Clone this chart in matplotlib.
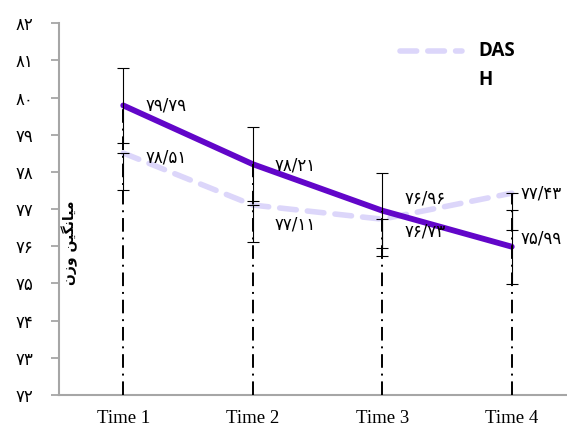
import numpy as np
import matplotlib
matplotlib.use('Agg')
import matplotlib.pyplot as plt

# datos
categorias = ['Time 1', 'Time 2', 'Time 3', 'Time 4']
serie_morada = [79.79, 78.21, 76.96, 75.99]
serie_das = [78.51, 77.11, 76.73, 77.43]
error_morada = [1.0, 1.0, 1.0, 1.0]
error_das = [1.0, 1.0, 1.0, 1.0]
etiquetas_morada = ['۷۹/۷۹', '۷۸/۲۱', '۷۶/۹۶', '۷۵/۹۹']
etiquetas_das = ['۷۸/۵۱', '۷۷/۱۱', '۷۶/۷۳', '۷۷/۴۳']
yticks = list(range(72, 83))
ytick_labels = ['۷۲', '۷۳', '۷۴', '۷۵', '۷۶', '۷۷', '۷۸', '۷۹', '۸۰', '۸۱', '۸۲']

# desplazamientos (pt) de las etiquetas de datos
desp_morada = [(16, 0), (16, -1), (16, 9), (6, 6)]
desp_das = [(16, -3), (16, -14), (16, -9), (6, 0)]

# "میانگین وزن" en formas de presentacion, orden visual
etiqueta_y = '\uFEE5\uFEAF\uFEED \uFEE6\uFEF4\uFB95\uFEE7\uFE8E\uFEF4\uFEE3'

morado = '#6206C9'
lavanda = '#DCD6FA'
gris = '#A6A6A6'

x = np.arange(1, len(categorias) + 1)

fig = plt.figure(figsize=(5.67, 4.28), dpi=100)
ax = fig.add_axes([58.5 / 567, 33 / 428, (567 - 58.5) / 567, (395 - 23.3) / 428])

# lineas de las series
ax.plot(x, serie_das, color=lavanda, lw=4.0, ls=(0, (3.0, 2.0)), dash_capstyle='round', zorder=2)
ax.plot(x, serie_morada, color=morado, lw=4.2, solid_capstyle='round', zorder=2)

# lineas de caida (punto mas alto hasta el eje)
tope = np.maximum(serie_morada, serie_das)
ax.vlines(x, 72, tope, colors='black', lw=1.4, linestyles=(0, (7, 3, 1, 3)), zorder=3)

# barras de error
ax.errorbar(x, serie_morada, yerr=error_morada, fmt='none', ecolor='black', elinewidth=0.8,
            capsize=4.5, capthick=0.8, zorder=4)
ax.errorbar(x, serie_das, yerr=[error_das, [0] * 4], fmt='none', ecolor='black', elinewidth=0.8,
            capsize=4.5, capthick=0.8, zorder=4)

# etiquetas de datos
for xi, yi, t, d in zip(x, serie_morada, etiquetas_morada, desp_morada):
    ax.annotate(t, (xi, yi), xytext=d, textcoords='offset points', ha='left', va='center',
                fontsize=12, family='DejaVu Sans', annotation_clip=False)
for xi, yi, t, d in zip(x, serie_das, etiquetas_das, desp_das):
    ax.annotate(t, (xi, yi), xytext=d, textcoords='offset points', ha='left', va='center',
                fontsize=12, family='DejaVu Sans', annotation_clip=False)

ax.set_xlim(0.5, 0.5 + (567 - 58.5) / 129.5)
ax.set_ylim(72, 82)
ax.set_xticks(x)
ax.set_xticklabels(categorias, family='Liberation Serif', fontsize=13.5)
ax.tick_params(axis='x', length=0, pad=11)
ax.set_yticks(yticks)
ax.set_yticklabels(ytick_labels, family='DejaVu Sans', fontsize=12)
ax.tick_params(axis='y', length=6, width=1.3, color=gris, pad=12)

for lado in ['top', 'right']:
    ax.spines[lado].set_visible(False)
for lado in ['left', 'bottom']:
    ax.spines[lado].set_color(gris)
    ax.spines[lado].set_linewidth(1.5)

ax.text(0.023, 0.41, etiqueta_y, transform=ax.transAxes, rotation=90, ha='center', va='center',
        fontsize=10, fontweight='bold', family='DejaVu Sans')

# leyenda (solo la serie DAS)
ax.plot([0.672, 0.794], [0.926, 0.926], transform=ax.transAxes, color=lavanda, lw=4.0,
        ls=(0, (3.0, 2.0)), dash_capstyle='round', clip_on=False)
ax.text(0.826, 0.926, 'DAS', transform=ax.transAxes, ha='left', va='center',
        family='Open Sans', fontweight='bold', fontsize=13.5)
ax.text(0.826, 0.848, 'H', transform=ax.transAxes, ha='left', va='center',
        family='Open Sans', fontweight='bold', fontsize=13.5)

fig.savefig('out.png', dpi=100)
